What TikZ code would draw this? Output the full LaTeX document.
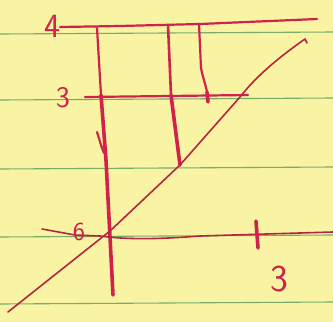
\documentclass[tikz,border=0pt]{standalone}
\usetikzlibrary{calc}
\definecolor{paper}{HTML}{F8F4A4}
\definecolor{rule}{HTML}{78AC6C}
\definecolor{ink}{HTML}{D0224A}
\definecolor{inkd}{HTML}{B4253E}
\begin{document}
\begin{tikzpicture}[x=1pt,y=-1pt,
  ruleline/.style={draw=rule,line width=1.1pt},
  pen/.style={draw=ink,line width=2.2pt,line cap=round,line join=round},
  thinpen/.style={draw=inkd,line width=1.6pt,line cap=round,line join=round},
  boldpen/.style={draw=ink,line width=3.6pt,line cap=round,line join=round},
  lbl/.style={text=ink,font=\sffamily,inner sep=0pt}]
\useasboundingbox (0,0) rectangle (333,322);
\fill[paper] (0,0) rectangle (333,322);
% ruled paper lines
\draw[ruleline] (0,34) -- (333,32);
\draw[ruleline] (0,100) -- (333,98);
\draw[ruleline] (0,169) -- (333,167);
\draw[ruleline] (0,237) -- (333,235);
\draw[ruleline] (0,304) -- (333,302);
% top horizontal line (4)
\draw[pen] (60,27) -- (120,26) -- (200,24) -- (317,19);
% horizontal line (3)
\draw[pen] (85,97) -- (170,96) -- (248,95);
% left vertical
\draw[pen] (97,28) -- (101,95);
\draw[boldpen] (101,95) -- (106,160) -- (113,295);
\draw[pen] (97,132) .. controls (99,138) and (101,146) .. (104,153);
% middle vertical
\draw[pen,line width=2.6pt] (168,25) -- (171,95);
\draw[boldpen] (171,95) -- (180,165);
% right vertical
\draw[pen] (199,24) -- (201,68) .. controls (203,78) and (206,86) .. (207,92);
\draw[boldpen] (207,92) -- (208,102);
% diagonal
\draw[thinpen] (8,312) -- (110,231) -- (180,165) -- (240,97)
  .. controls (255,78) and (275,60) .. (305,39) -- (307,43);
% bottom axis
\draw[thinpen] (42,229) -- (75,235) -- (100,236)
  .. controls (130,240) and (160,239) .. (200,236) -- (333,232);
\draw[boldpen] (256,221) -- (258,248);
% labels
\node[lbl,font=\sffamily\fontsize{34}{34}\selectfont] (four) at (52,26) {4};
\node[lbl,font=\sffamily\fontsize{30}{30}\selectfont] (three) at (63,98) {3};
\node[lbl,font=\sffamily\fontsize{26}{26}\selectfont] (six) at (79,232) {6};
\node[lbl,font=\sffamily\fontsize{38}{38}\selectfont] (threeb) at (279,279) {3};
\end{tikzpicture}
\end{document}
